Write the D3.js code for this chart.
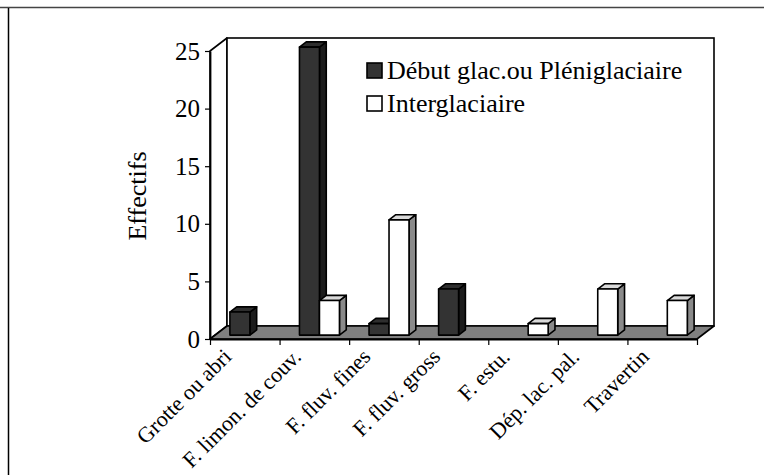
<!DOCTYPE html>
<html><head><meta charset="utf-8">
<script src="https://cdn.jsdelivr.net/npm/d3@7/dist/d3.min.js"></script>
<style>
html,body{margin:0;padding:0;background:#fff;}
svg{display:block;}
</style></head>
<body>
<svg id="c" width="764" height="475"></svg>
<script>
const categories = ["Grotte ou abri","F. limon. de couv.","F. fluv. fines","F. fluv. gross","F. estu.","Dép. lac. pal.","Travertin"];
const seriesNames = ["Début glac.ou Pléniglaciaire","Interglaciaire"];
const debut = [2,25,1,4,0,0,0];
const inter = [0,3,10,0,1,4,3];
const yTicks = [0,5,10,15,20,25];
const yTitle = "Effectifs";

const FONT = "'Liberation Serif', 'Times New Roman', serif";
const svg = d3.select("#c");
const x0 = 210, x1 = 697, yBot = 339, yTop = 51;
const D = {dx:17, dy:-13};
const b0 = 0.3, b1 = 0.7;

const x = d3.scaleBand().domain(categories).range([x0,x1]).paddingInner(0).paddingOuter(0);
const xs = d3.scaleBand().domain(seriesNames).range([0,x.bandwidth()]).paddingInner(0).paddingOuter(0.74);
const y = d3.scaleLinear().domain([0,25]).range([yBot,yTop]);
const xEdge = d3.scaleLinear().domain([0,categories.length]).range([x0,x1]);

// frame
svg.append("line").attr("x1",0).attr("x2",764).attr("y1",7.5).attr("y2",7.5).attr("stroke","#444").attr("stroke-width",1.5);
svg.append("line").attr("x1",8.5).attr("x2",8.5).attr("y1",8).attr("y2",475).attr("stroke","#000").attr("stroke-width",1.5);

const P = pts => pts.map(p=>p.join(",")).join(" ");
const g = svg.append("g");
g.append("polygon").attr("points",P([[x0,y(25)],[x0+D.dx,y(25)+D.dy],[x0+D.dx,yBot+D.dy],[x0,yBot]]))
  .attr("fill","#fff").attr("stroke","#000").attr("stroke-width",1.6).attr("stroke-linejoin","round");
g.append("rect").attr("x",x0+D.dx).attr("y",y(25)+D.dy).attr("width",x1-x0).attr("height",yBot-y(25))
  .attr("fill","#fff").attr("stroke","#000").attr("stroke-width",1.6);
g.append("polygon").attr("points",P([[x0,yBot],[x0+D.dx,yBot+D.dy],[x1+D.dx,yBot+D.dy],[x1,yBot]]))
  .attr("fill","#808080").attr("stroke","#000").attr("stroke-width",1.6).attr("stroke-linejoin","round");

const styles = [
  {front:"#333333", top:"#2e2e2e", side:"#1c1c1c"},
  {front:"#ffffff", top:"#d9d9d9", side:"#8a8a8a"}
];
const data = [];
categories.forEach((c,i)=>{
  [debut,inter].forEach((arr,s)=>{ if(arr[i]>0) data.push({c, s, v:arr[i]}); });
});
const fx = D.dx*b0, fy = D.dy*b0, ddx = D.dx*(b1-b0), ddy = D.dy*(b1-b0);
const bars = g.selectAll("g.bar").data(data).join("g").attr("class","bar");
bars.each(function(d){
  const gg = d3.select(this);
  const st = styles[d.s];
  const L = x(d.c) + xs(seriesNames[d.s]) + fx;
  const R = L + xs.bandwidth();
  const B = yBot + fy, T = y(d.v) + fy;
  const common = sel => sel.attr("stroke","#000").attr("stroke-width",1.6).attr("stroke-linejoin","round");
  common(gg.append("polygon").attr("points",P([[R,B],[R+ddx,B+ddy],[R+ddx,T+ddy],[R,T]])).attr("fill",st.side));
  common(gg.append("polygon").attr("points",P([[L,T],[L+ddx,T+ddy],[R+ddx,T+ddy],[R,T]])).attr("fill",st.top));
  common(gg.append("rect").attr("x",L).attr("y",T).attr("width",R-L).attr("height",B-T).attr("fill",st.front));
});

const ya = svg.append("g").attr("transform",`translate(${x0},0)`)
  .call(d3.axisLeft(y).tickValues(yTicks).tickSize(5).tickSizeOuter(0).tickPadding(5));
ya.select(".domain").attr("stroke","#000").attr("stroke-width",1.8);
ya.selectAll(".tick line").attr("stroke","#000").attr("stroke-width",1.2);
ya.selectAll(".tick text").attr("font-family",FONT).attr("font-size",25).attr("fill","#000");

const xa = svg.append("g").attr("transform",`translate(0,${yBot})`)
  .call(d3.axisBottom(xEdge).tickValues(d3.range(categories.length+1)).tickSize(6).tickSizeOuter(0).tickFormat(""));
xa.select(".domain").attr("stroke","#000").attr("stroke-width",1.8);
xa.selectAll(".tick line").attr("stroke","#000").attr("stroke-width",1.2);

svg.append("g").selectAll("text").data(categories).join("text")
  .attr("transform",d=>`translate(${x(d)+x.bandwidth()/2-12},${yBot+19}) rotate(-45)`)
  .attr("text-anchor","end").attr("font-family",FONT).attr("font-size",22).attr("fill","#000").text(d=>d);

svg.append("text").attr("transform","translate(146,196) rotate(-90)")
  .attr("text-anchor","middle").attr("font-family",FONT).attr("font-size",26).attr("fill","#000").text(yTitle);

const lg = svg.append("g");
const legY = [63,96];
seriesNames.forEach((n,i)=>{
  lg.append("rect").attr("x",367).attr("y",legY[i]).attr("width",15).attr("height",15)
    .attr("fill",styles[i].front).attr("stroke","#000").attr("stroke-width",1.6);
  lg.append("text").attr("x",387).attr("y",legY[i]+16).attr("font-family",FONT).attr("font-size",26).attr("fill","#000").text(n);
});
</script>
</body></html>
